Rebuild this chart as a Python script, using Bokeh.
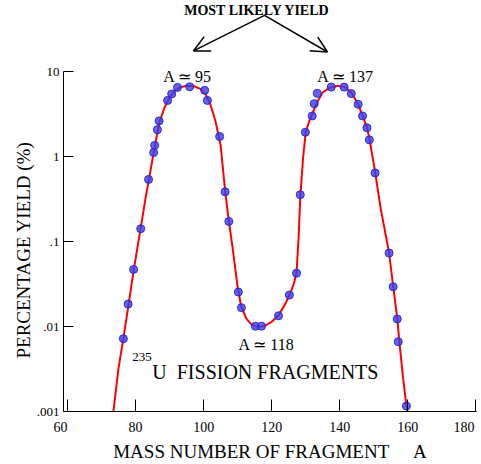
from bokeh.plotting import figure
from bokeh.models import FixedTicker, Label, Arrow, OpenHead, Title
from bokeh.embed import file_html
from bokeh.resources import INLINE

SERIF = "Liberation Serif"

# measured fission yields of 235U fragments (mass number A, percent yield)
fragment_a = [76.4, 77.8, 79.4, 81.5, 83.8, 85.3, 85.6, 86.4, 86.9, 89.4,
              90.6, 92.3, 95.9, 100.3, 101.1, 104.7, 106.3, 107.4, 110.2, 111.1,
              115.2, 117.0, 122.0, 125.2, 127.3, 128.4, 129.9, 131.9, 132.5, 133.4,
              137.5, 141.3, 143.4, 145.4, 146.7, 148.0, 148.7, 150.4, 154.5, 155.7,
              156.9, 157.2, 159.6]
fragment_yield = [0.0072, 0.0184, 0.047, 0.142, 0.54, 1.12, 1.36, 2.08, 2.64, 4.6,
                  5.48, 6.55, 6.67, 6.05, 4.6, 1.73, 0.386, 0.173, 0.0255, 0.0167,
                  0.0101, 0.0101, 0.0134, 0.0235, 0.0425, 0.357, 1.94, 3.02, 4.21, 5.58,
                  6.6, 6.6, 5.54, 4.14, 3.02, 2.19, 1.58, 0.645, 0.0734, 0.0294,
                  0.0123, 0.00664, 0.00116]

# smooth fitted curve
curve_a = [73.4, 75.0, 76.4, 78.0, 79.5, 81.5, 83.0, 84.0, 85.5, 87.0,
           88.5, 90.0, 91.5, 93.0, 95.0, 97.0, 99.0, 100.5, 102.0, 103.5,
           105.0, 106.3, 107.4, 108.5, 110.0, 111.0, 112.5, 114.0, 116.0, 118.0,
           120.0, 122.0, 124.0, 125.5, 126.5, 127.3, 127.9, 128.4, 129.2, 130.0,
           131.0, 132.0, 133.5, 135.0, 137.0, 139.5, 141.5, 143.4, 145.4, 146.7,
           148.0, 148.7, 150.4, 152.0, 154.5, 155.7, 156.9, 157.6, 158.6, 159.6,
           160.1]
curve_yield = [0.00095, 0.0033, 0.0072, 0.019, 0.048, 0.145, 0.34, 0.56, 1.25, 2.55,
               3.8, 5.0, 5.95, 6.55, 6.85, 6.8, 6.3, 5.5, 4.1, 2.6,
               1.35, 0.4, 0.175, 0.085, 0.029, 0.0175, 0.0125, 0.0106, 0.0098, 0.0102,
               0.0114, 0.0136, 0.0185, 0.025, 0.032, 0.043, 0.11, 0.33, 0.95, 1.95,
               2.6, 3.25, 4.5, 5.7, 6.5, 6.85, 6.6, 5.7, 4.15, 3.05,
               2.2, 1.65, 0.66, 0.25, 0.074, 0.03, 0.0125, 0.0062, 0.0025, 0.00118,
               0.00092]

x_ticks = [60, 80, 100, 120, 140, 160, 180]
y_ticks = [0.001, 0.01, 0.1, 1, 10]
y_tick_labels = [".001", ".01", ".1", "1", "10"]

# the frame runs to the top of the canvas so the notes above the axis show;
# the y axis itself only spans .001 .. 10
p = figure(
    width=481,
    height=464,
    x_range=(58.8, 180.2),
    y_range=(0.001, 69.1),
    y_axis_type="log",
    output_backend="svg",
    toolbar_location=None,
    tools="",
    min_border_left=63,
    min_border_right=5,
    min_border_top=0,
    min_border_bottom=49,
)
p.outline_line_color = None
p.xgrid.visible = False
p.ygrid.visible = False

for ax in (p.xaxis, p.yaxis):
    ax.axis_line_color = "black"
    ax.major_tick_line_color = "black"
    ax.major_tick_out = 0
    ax.minor_tick_line_color = None
    ax.major_label_text_font = SERIF
    ax.major_label_text_font_size = "14px"
    ax.major_label_text_color = "black"

p.xaxis.ticker = FixedTicker(ticks=x_ticks)
p.xaxis.major_tick_in = 12
p.xaxis.major_label_standoff = 8
p.xaxis.axis_label_standoff = 3
# end labels nudged with padding so they sit like the original
p.xaxis.major_label_overrides = {60: "60\u00a0\u00a0\u00a0\u00a0", 180: "180\u00a0\u00a0"}
p.xaxis.axis_label = "MASS NUMBER OF FRAGMENT\u00a0\u00a0\u00a0\u00a0\u00a0A"
p.xaxis.axis_label_text_font = SERIF
p.xaxis.axis_label_text_font_style = "normal"
p.xaxis.axis_label_text_font_size = "19px"
p.xaxis.axis_label_text_color = "black"

p.yaxis.ticker = FixedTicker(ticks=y_ticks)
p.yaxis.bounds = (0.001, 10)
p.yaxis.major_tick_in = 10
p.yaxis.major_label_standoff = 4
p.yaxis.major_label_text_font_size = "13px"
p.yaxis.major_label_overrides = dict(zip(y_ticks, y_tick_labels))

# y title as a side title, started a little above the x axis
p.add_layout(Title(text="PERCENTAGE YIELD (%)", align="left", offset=53, standoff=0,
                   text_font=SERIF, text_font_size="19px", text_font_style="normal",
                   text_color="black"), "left")

p.line(curve_a, curve_yield, line_color="#ff0000", line_width=2)
p.scatter(fragment_a, fragment_yield, marker="circle", size=8,
          fill_color="#3b3bf0", fill_alpha=0.8, line_color="#2a2ac8", line_width=1)


def note(x, y, text, size="16px", align="center", style="normal"):
    p.add_layout(Label(x=x, y=y, text=text, text_align=align, text_baseline="alphabetic",
                       text_font=SERIF, text_font_size=size, text_font_style=style,
                       text_color="black"))


note(95.25, 8.75, "A \u2243 95")
note(141.7, 8.75, "A \u2243 137")
note(118.5, 0.0062, "A \u2243 118")
note(79.0, 0.00438, "235", size="13px", align="left")
note(84.9, 0.00293, "U\u00a0\u00a0FISSION FRAGMENTS", size="20px", align="left")
note(115.7, 53.0, "MOST LIKELY YIELD", size="14px", style="bold")

for x_end, y_end in [(97.0, 17.6), (136.4, 17.1)]:
    p.add_layout(Arrow(end=OpenHead(size=16, line_width=1.5, line_color="black"),
                       x_start=117.9, y_start=46.2, x_end=x_end, y_end=y_end,
                       line_width=1.5, line_color="black"))

open("out.html", "w").write(file_html(p, INLINE))
